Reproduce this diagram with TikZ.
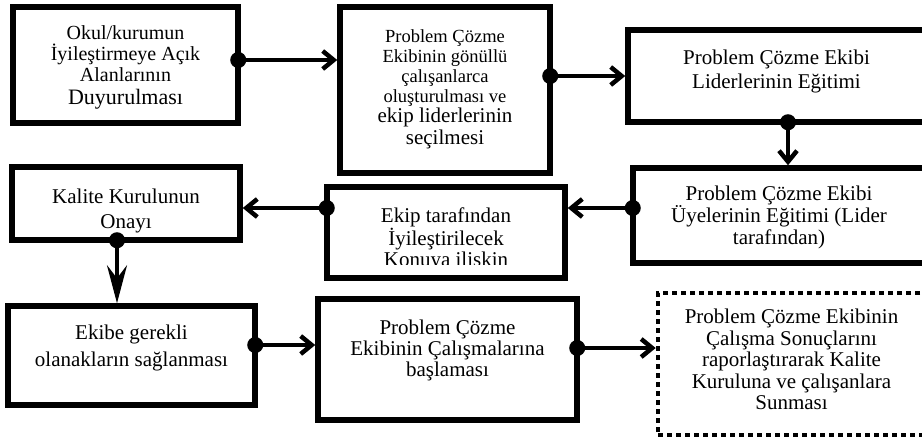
\documentclass[tikz,border=0pt]{standalone}
\usepackage{fontspec}
\setmainfont{Liberation Serif}
\usetikzlibrary{arrows.meta}

\begin{document}
\begin{tikzpicture}[x=1pt, y=-1pt,
    box/.style={draw, line width=5.5pt, inner sep=0pt},
    dotbox/.style={draw, line width=4.5pt, dash pattern=on 5pt off 4pt, inner sep=0pt},
    txt/.style={anchor=north, align=center, inner sep=0pt, font=\fontsize{21}{22}\selectfont},
    conn/.style={line width=4pt, shorten <=-10.5pt,
      {Circle[length=16pt]}-{Straight Barb[length=11pt,width=18pt,line width=4.5pt]}},
    longconn/.style={conn, {Circle[length=16pt]}-{Stealth[length=38pt,width=20pt,inset=13pt]}}]
  \useasboundingbox (0,0) rectangle (922,440);
  \clip (0,0) rectangle (922,440);

  % boxes
  \node[box, minimum width=225, minimum height=116] (okul) at (125.5,65) {};
  \node[box, minimum width=210, minimum height=166] (ekip) at (445,90) {};
  \node[box, minimum width=297, minimum height=92] (lider) at (776.5,76) {};
  \node[box, minimum width=292, minimum height=95] (uye) at (779,215.5) {};
  \node[box, minimum width=238, minimum height=91] (konu) at (446,232.5) {};
  \node[box, minimum width=228, minimum height=73] (kalite) at (126,203.5) {};
  \node[box, minimum width=247, minimum height=99] (olanak) at (131.5,355.5) {};
  \node[box, minimum width=259, minimum height=121] (calisma) at (447.5,359.5) {};
  \node[dotbox, minimum width=267, minimum height=142] (sunma) at (791.5,364) {};

  % texts
  \node[txt, font=\fontsize{20}{21}\selectfont] (okulT) at ([yshift=-21pt]okul.north)
    {Okul/kurumun\\ İyileştirmeye Açık\\ Alanlarının\\[2pt] {\fontsize{22}{22}\selectfont Duyurulması}};
  \node[txt, font=\fontsize{18.5}{20}\selectfont] (ekipT) at ([yshift=-25pt]ekip.north)
    {Problem Çözme\\ Ekibinin gönüllü\\ çalışanlarca\\ oluşturulması ve\\
     {\fontsize{21}{21}\selectfont ekip liderlerinin}\\[2pt] {\fontsize{21}{21}\selectfont seçilmesi}};
  \node[txt, font=\fontsize{21}{24}\selectfont] (liderT) at ([yshift=-22pt]lider.north)
    {Problem Çözme Ekibi\\ Liderlerinin Eğitimi};
  \begin{scope}
    \clip (uye.north west) rectangle ([yshift=16.75pt]uye.south east);
    \node[txt] (uyeT) at ([yshift=-20pt]uye.north)
      {Problem Çözme Ekibi\\ Üyelerinin Eğitimi (Lider\\ tarafından)};
  \end{scope}
  \begin{scope}
    \clip (konu.north west) rectangle ([yshift=16pt]konu.south east);
    \node[txt, font=\fontsize{21}{21}\selectfont] (konuT) at ([yshift=-23pt]konu.north)
      {Ekip tarafından\\ İyileştirilecek\\ Konuya ilişkin};
  \end{scope}
  \node[txt, font=\fontsize{21}{25}\selectfont] (kaliteT) at ([yshift=-24pt]kalite.north)
    {Kalite Kurulunun\\ Onayı};
  \node[txt, font=\fontsize{21}{27}\selectfont] (olanakT) at ([yshift=-21pt]olanak.north)
    {Ekibe gerekli\\ olanakların sağlanması};
  \node[txt, font=\fontsize{21}{21}\selectfont] (calismaT) at ([yshift=-23pt]calisma.north)
    {Problem Çözme\\ Ekibinin Çalışmalarına\\ başlaması};
  \node[txt, font=\fontsize{21}{21.5}\selectfont] (sunmaT) at ([yshift=-18pt]sunma.north)
    {Problem Çözme Ekibinin\\ Çalışma Sonuçlarını\\ raporlaştırarak Kalite\\
     Kuruluna ve çalışanlara\\ Sunması};

  % connectors
  \coordinate (p1) at ([yshift=5pt]okul.east);
  \coordinate (p3) at ([xshift=11.5pt]lider.south);
  \coordinate (p4) at ([yshift=7.5pt]uye.west);
  \coordinate (p6) at ([xshift=-9pt]kalite.south);
  \coordinate (p7) at ([yshift=10.5pt]olanak.east);
  \coordinate (p8) at ([yshift=11.5pt]calisma.east);

  \draw[conn] (p1) -- (p1 -| ekip.west);
  \draw[conn] (ekip.east |- lider.west) -- (lider.west);
  \draw[conn] (p3) -- (p3 |- uye.north);
  \draw[conn] (p4) -- (p4 -| konu.east);
  \draw[conn] (p4 -| konu.west) -- (p4 -| kalite.east);
  \draw[longconn] (p6) -- (p6 |- olanak.north);
  \draw[conn] (p7) -- (p7 -| calisma.west);
  \draw[conn] (p8) -- (p8 -| sunma.west);
\end{tikzpicture}
\end{document}
